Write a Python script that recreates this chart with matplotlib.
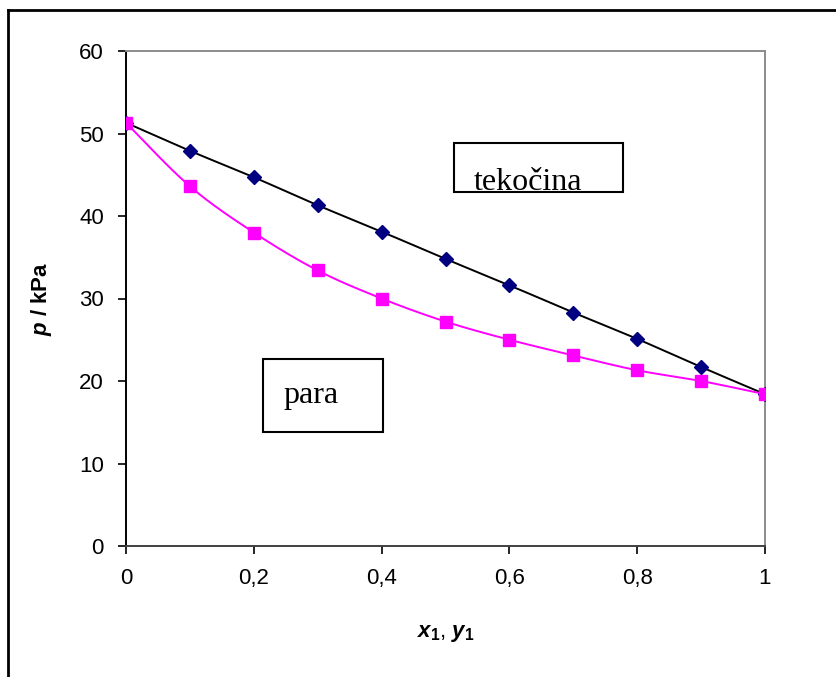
import numpy as np
import matplotlib.pyplot as plt
from matplotlib.patches import Rectangle
from matplotlib.lines import Line2D

# podatki: p-x-y diagram
x1 = [0.0, 0.1, 0.2, 0.3, 0.4, 0.5, 0.6, 0.7, 0.8, 0.9, 1.0]
p_tekocina = [51.3, 47.9, 44.7, 41.3, 38.1, 34.8, 31.6, 28.3, 25.1, 21.7, 18.4]
p_para = [51.3, 43.6, 38.0, 33.4, 30.0, 27.2, 25.0, 23.1, 21.3, 20.0, 18.4]

W, H = 836, 677
plt.rcParams['font.family'] = 'Liberation Sans'
plt.rcParams['mathtext.fontset'] = 'custom'
plt.rcParams['mathtext.it'] = 'Liberation Sans:bold:italic'
plt.rcParams['mathtext.rm'] = 'Liberation Sans:bold'
plt.rcParams['mathtext.bf'] = 'Liberation Sans:bold'


def px(x, y):
    # piksli -> koordinate slike
    return x / W, 1 - y / H


def smooth(x, y, n=20):
    # gladka krivulja kot v Excelu (Bezier / Catmull-Rom)
    pts = np.column_stack([x, y])
    out = []
    m = len(pts)
    t = np.linspace(0, 1, n)[:, None]
    for i in range(m - 1):
        p0 = pts[max(i - 1, 0)]
        p1 = pts[i]
        p2 = pts[i + 1]
        p3 = pts[min(i + 2, m - 1)]
        c1 = p1 + (p2 - p0) / 6
        c2 = p2 - (p3 - p1) / 6
        seg = ((1 - t) ** 3) * p1 + 3 * ((1 - t) ** 2) * t * c1 + 3 * (1 - t) * t ** 2 * c2 + t ** 3 * p2
        out.append(seg if i == 0 else seg[1:])
    out = np.vstack(out)
    return out[:, 0], out[:, 1]


fig = plt.figure(figsize=(W / 100, H / 100), dpi=100)
l, b = px(126, 546)
r, t = px(765, 51)
ax = fig.add_axes([l, b, r - l, t - b])

xs, ys = smooth(x1, p_tekocina)
ax.plot(xs, ys, color='black', lw=1.4, zorder=3)
ax.plot(x1, p_tekocina, ls='none', marker='D', ms=7, color='#000080', zorder=4)
xs, ys = smooth(x1, p_para)
ax.plot(xs, ys, color='#FF00FF', lw=1.4, zorder=5)
ax.plot(x1, p_para, ls='none', marker='s', ms=8, color='#FF00FF', zorder=6)

ax.set_xlim(0, 1)
ax.set_ylim(0, 60)
ax.set_xticks([0, 0.2, 0.4, 0.6, 0.8, 1.0])
ax.set_xticklabels(['0', '0,2', '0,4', '0,6', '0,8', '1'])
ax.set_yticks(range(0, 61, 10))
ax.tick_params(labelsize=16, length=6, width=1.2, direction='out', pad=10)
ax.spines['left'].set_color('black')
ax.spines['bottom'].set_color('#404040')
ax.spines['top'].set_color('#8c8c8c')
ax.spines['right'].set_color('#8c8c8c')
for s in ax.spines.values():
    s.set_linewidth(1.4)

ax.set_xlabel(r'$x_1$, $y_1$', fontsize=16, labelpad=24)
ax.set_ylabel(r'$p$ / kPa', fontsize=16, fontweight='bold', labelpad=18)

# okvirja z besedilom
for (x0, y0, x_1, y_1), txt, tx, ty in [((454, 143, 623, 192), 'tekočina', 474, 190),
                                          ((263, 359, 383, 432), 'para', 283, 403)]:
    xa, ya = px(x0, y_1)
    xb, yb = px(x_1, y0)
    rect = Rectangle((xa, ya), xb - xa, yb - ya, transform=fig.transFigure,
                     facecolor='white', edgecolor='black', lw=1.5, zorder=10)
    fig.patches.append(rect)
    tt = fig.text(*px(tx, ty), txt, family='Liberation Serif', fontsize=23,
                  va='baseline', ha='left', zorder=11)
    tt.set_clip_path(rect)

# zunanji okvir
fig.add_artist(Line2D([8 / W, 1], [1 - 10 / H, 1 - 10 / H], color='black', lw=2, transform=fig.transFigure))
fig.add_artist(Line2D([8 / W, 8 / W], [0, 1 - 10 / H], color='black', lw=2, transform=fig.transFigure))

fig.savefig('out.png', dpi=100)
